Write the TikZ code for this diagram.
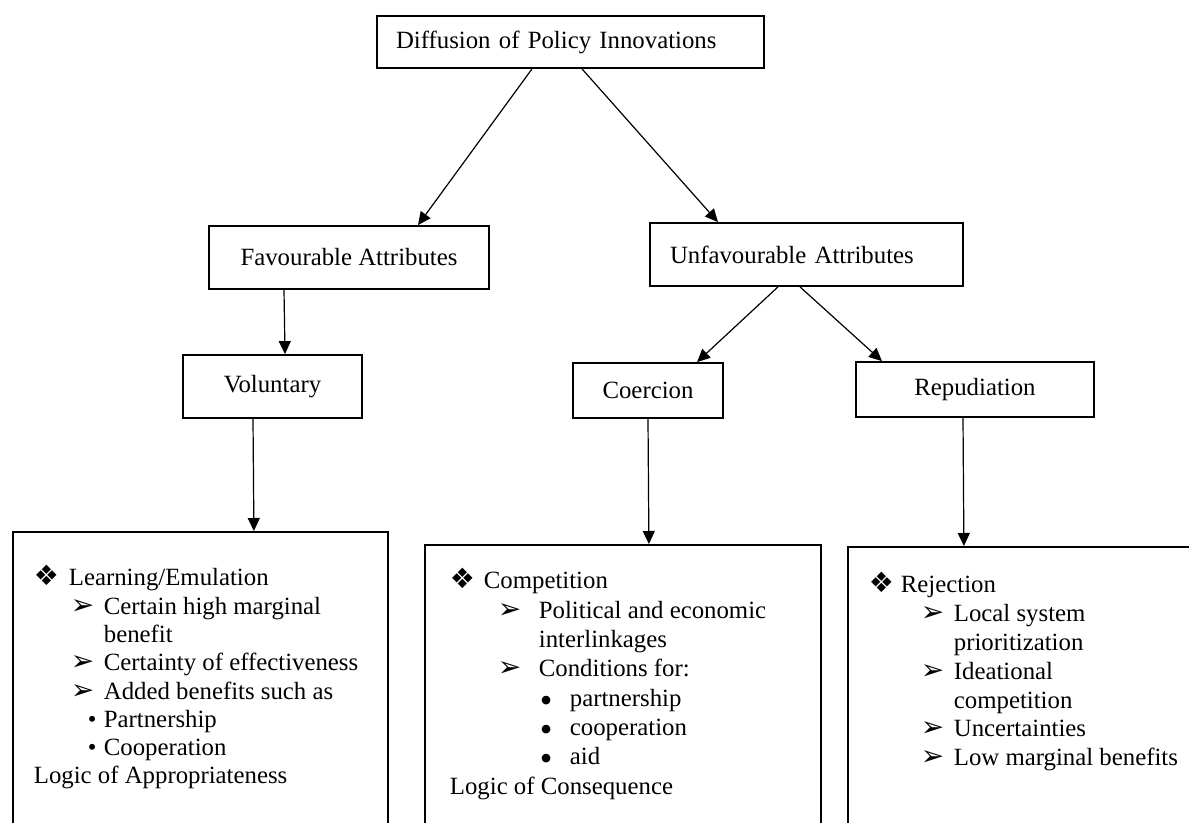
\documentclass[tikz,border=0pt]{standalone}
\usepackage{fontspec}
\setmainfont{Liberation Serif}
\newfontfamily\symfont{DejaVu Sans}
\usetikzlibrary{arrows.meta, calc}
\newcommand{\diam}{{\symfont\fontsize{14pt}{10pt}\selectfont ❖}}
\newcommand{\pointer}{{\symfont\fontsize{14pt}{10pt}\selectfont ➢}}
\newcommand{\bigdot}{\smash{\raisebox{-3pt}{\fontsize{18pt}{10pt}\selectfont\textbullet}}}

\begin{document}
\begin{tikzpicture}[
		x=0.5pt, y=-0.5pt,
		font=\fontsize{12.4pt}{14.15pt}\selectfont,
		box/.style={draw, line width=0.9pt, inner sep=0pt},
		bigbox/.style={draw, line width=0.9pt, anchor=north west, inner ysep=0pt, text depth=175pt},
		conn/.style={->, >={Triangle[length=6.5pt,width=6pt]}, line width=0.6pt},
		]
	\useasboundingbox (0,0) rectangle (1189,823);
	\clip (0,0) rectangle (1189,823);

	\node (diff) [box, inner xsep=9.5pt, text width=174.5pt, align=left, minimum height=26pt] at (570.5,42) {Diffusion of Policy Innovations};
	\node (fav) [box, minimum width=140pt, minimum height=31.5pt] at (349,257.5) {Favourable Attributes};
	\node (unfav) [box, inner xsep=10pt, text width=136.5pt, align=left, minimum height=31.5pt] at (806.5,254.5) {Unfavourable Attributes};
	\node (volun) [box, minimum width=89.5pt, minimum height=31.5pt] at (272.5,386.5) {Voluntary};
	\node (coerc) [box, minimum width=75pt, minimum height=27.5pt] at (648,390.5) {Coercion};
	\node (repud) [box, minimum width=119pt, minimum height=27.5pt] at (975,389.5) {Repudiation};

	% bottom boxes run past the page edge
	\node (learn) [bigbox, inner xsep=10.5pt] at (12,531) {\parbox[t]{166.5pt}{\raggedright
		\fontsize{12.4pt}{14.15pt}\selectfont
		\rule{0pt}{27pt}\makebox[17.5pt][l]{\diam}Learning/Emulation\\
		\hspace*{18.5pt}\makebox[16.5pt][l]{\pointer}Certain high marginal\\
		\hspace*{35pt}benefit\\
		\hspace*{18.5pt}\makebox[16.5pt][l]{\pointer}Certainty of effectiveness\\
		\hspace*{18.5pt}\makebox[16.5pt][l]{\pointer}Added benefits such as\\
		\hspace*{27pt}\makebox[8pt][l]{\textbullet}Partnership\\
		\hspace*{27pt}\makebox[8pt][l]{\textbullet}Cooperation\\
		Logic of Appropriateness}};
	\node (conseq) [bigbox, inner xsep=12.5pt] at (424,544) {\parbox[t]{173pt}{\raggedright
		\fontsize{12.4pt}{14.65pt}\selectfont
		\rule{0pt}{22pt}\makebox[17pt][l]{\diam}Competition\\
		\hspace*{24pt}\makebox[20.5pt][l]{\pointer}Political and economic\\
		\hspace*{44.5pt}interlinkages\\
		\hspace*{24pt}\makebox[20.5pt][l]{\pointer}Conditions for:\\
		\hspace*{45pt}\makebox[15pt][l]{\bigdot}partnership\\
		\hspace*{45pt}\makebox[15pt][l]{\bigdot}cooperation\\
		\hspace*{45pt}\makebox[15pt][l]{\bigdot}aid\\
		Logic of Consequence}};
	\node (reject) [bigbox, inner xsep=10.5pt, minimum width=200pt] at (847,546) {\parbox[t]{179pt}{\raggedright
		\fontsize{12.4pt}{14.4pt}\selectfont
		\rule{0pt}{23pt}\makebox[16pt][l]{\diam}Rejection\\
		\hspace*{26pt}\makebox[16.5pt][l]{\pointer}Local system\\
		\hspace*{42.5pt}prioritization\\
		\hspace*{26pt}\makebox[16.5pt][l]{\pointer}Ideational\\
		\hspace*{42.5pt}competition\\
		\hspace*{26pt}\makebox[16.5pt][l]{\pointer}Uncertainties\\
		\hspace*{26pt}\makebox[16.5pt][l]{\pointer}Low marginal benefits}};

	\draw[conn] ($(diff.south)+(-38.5,0)$) -- ($(fav.north)+(69,0)$);
	\draw[conn] ($(diff.south)+(11.5,0)$) -- ($(unfav.north)+(-88.5,0)$);
	\draw[conn] ($(fav.south)+(-65,0)$) -- ($(volun.north)+(12.5,0)$);
	\draw[conn] ($(unfav.south)+(-28.5,0)$) -- ($(coerc.north)+(49,0)$);
	\draw[conn] ($(unfav.south)+(-6.5,0)$) -- ($(repud.north)+(-93,0)$);
	\draw[conn] ($(volun.south)+(-19.5,0)$) -- ($(learn.north)+(53.5,0)$);
	\draw[conn] (coerc.south) -- ($(conseq.north)+(26,0)$);
	\draw[conn] ($(repud.south)+(-12,0)$) -- ($(reject.north)+(-84,0)$);
\end{tikzpicture}
\end{document}
